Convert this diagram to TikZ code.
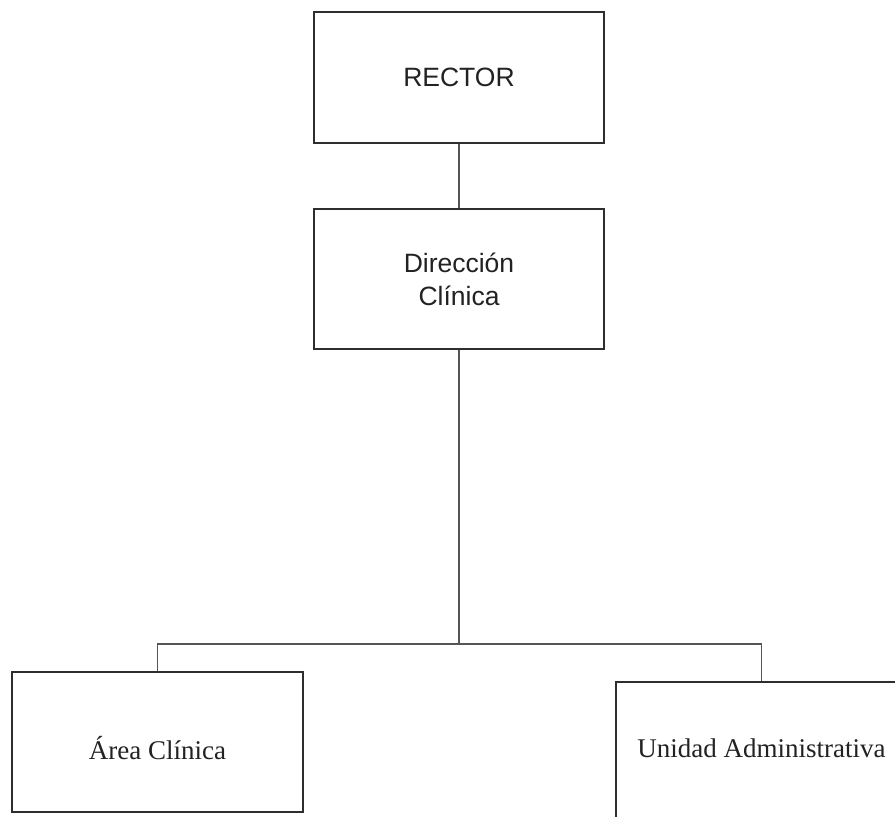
\documentclass[tikz,border=0pt]{standalone}
\usepackage{fontspec}
\usetikzlibrary{backgrounds}
\setmainfont{Liberation Serif}
\newfontfamily\arialf{Liberation Sans}
\definecolor{boxline}{HTML}{2E2E2E}
\definecolor{linkline}{HTML}{555555}
\definecolor{txt}{HTML}{222222}
\begin{document}
\begin{tikzpicture}[x=1pt,y=-1pt,
  orgbox/.style={draw=boxline, line width=1.8pt, fill=white, inner sep=0pt,
    text=txt, align=center},
  topbox/.style={orgbox, minimum width=290pt, font=\arialf\fontsize{26.5}{33}\selectfont},
  lowbox/.style={orgbox, minimum width=291pt, minimum height=140pt,
    font=\fontsize{27}{32}\selectfont},
  link/.style={draw=linkline, line width=1.5pt}]
  \useasboundingbox (0,0) rectangle (895,817);

  % organisation boxes
  \node[topbox, minimum height=131pt] (rector) at (459,77.5) {RECTOR};
  \node[topbox, minimum height=140pt] (dir) at (459,279) {Dirección\\Clínica};
  \node[lowbox] (area) at (157.5,742) {\raisebox{-6pt}[\height][\depth]{Área Clínica}};
  \node[lowbox] (unidad) at (761.5,752) {\raisebox{4pt}[\height][\depth]{Unidad Administrativa}};

  % connectors, behind the boxes
  \coordinate (bus) at (459,644);
  \begin{scope}[on background layer]
    \path[link] (rector.south) -- (dir.north);
    \path[link] (dir.south) -- (bus);
    \path[link] (area.north) |- (bus) -| (unidad.north);
  \end{scope}
\end{tikzpicture}
\end{document}
